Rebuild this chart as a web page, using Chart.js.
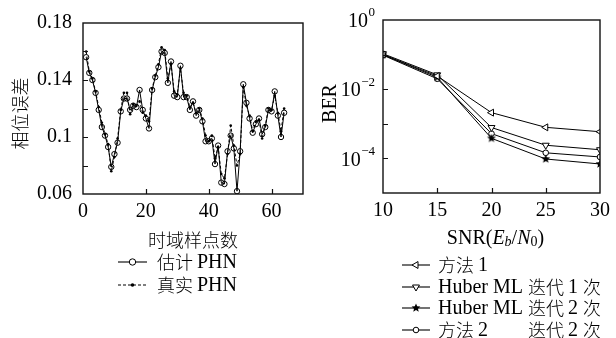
<!DOCTYPE html>
<html><head><meta charset="utf-8">
<script src="https://cdn.jsdelivr.net/npm/chart.js@4/dist/chart.umd.min.js"></script>
<style>
html,body{margin:0;padding:0;background:#fff;}
#wrap{position:relative;width:616px;height:338px;background:#fff;}
#c1{position:absolute;left:0;top:0;}
#c2{position:absolute;left:310px;top:0;}
</style></head><body>
<div id="wrap"><canvas id="c1" width="310" height="338"></canvas><canvas id="c2" width="306" height="338"></canvas></div>
<script>
// ---------- data: left chart ----------
const sampleIdx = [];
for (let i = 1; i <= 64; i++) sampleIdx.push(i);
const estPHN = [0.156,0.145,0.140,0.131,0.119,0.107,0.101,0.093,0.079,0.088,
  0.096,0.118,0.127,0.127,0.119,0.122,0.121,0.133,0.119,0.113,
  0.106,0.133,0.142,0.149,0.160,0.159,0.138,0.153,0.129,0.128,
  0.150,0.128,0.128,0.119,0.125,0.115,0.119,0.111,0.097,0.097,
  0.099,0.081,0.094,0.068,0.067,0.090,0.101,0.092,0.062,0.090,
  0.137,0.124,0.113,0.103,0.109,0.113,0.102,0.107,0.119,0.118,
  0.132,0.115,0.100,0.117];
const truePHN = [0.160,0.146,0.141,0.132,0.121,0.110,0.102,0.095,0.076,0.086,
  0.099,0.119,0.131,0.131,0.116,0.123,0.122,0.125,0.117,0.115,
  0.111,0.134,0.143,0.151,0.163,0.161,0.141,0.151,0.132,0.130,
  0.148,0.131,0.129,0.121,0.124,0.117,0.120,0.113,0.101,0.097,
  0.101,0.085,0.093,0.074,0.071,0.088,0.108,0.094,0.080,0.088,
  0.135,0.122,0.115,0.104,0.111,0.112,0.099,0.108,0.120,0.119,
  0.129,0.117,0.104,0.120];
const leftXTicks = [0, 20, 40, 60];
const leftYTicks = [0.06, 0.08, 0.10, 0.12, 0.14, 0.16, 0.18];
const leftYLabels = ['0.06', '', '0.1', '', '0.14', '', '0.18'];
const leftNames = ['估计 PHN', '真实 PHN'];

// ---------- data: right chart ----------
const snr = [10, 15, 20, 25, 30];
const berM1 = [0.100, 0.024, 2.1e-3, 7.9e-4, 5.9e-4];
const berHuber1 = [0.106, 0.026, 7.8e-4, 2.4e-4, 1.78e-4];
const berHuber2 = [0.100, 0.022, 3.8e-4, 9.6e-5, 6.9e-5];
const berM2 = [0.096, 0.020, 5.2e-4, 1.45e-4, 1.1e-4];
const rightXTicks = [10, 15, 20, 25, 30];
const rightYTicks = [1e-5, 1e-4, 1e-3, 1e-2, 1e-1, 1e0];
const rightYExp = ['', '−4', '', '−2', '', '0'];
const rightNames = ['方法 1', 'Huber ML 迭代 1 次', 'Huber ML 迭代 2 次', '方法 2'];

// ---------- style helpers ----------
const LAT = "'Liberation Serif', 'DejaVu Serif', serif";
const CJK = "'Noto Sans CJK SC', 'Noto Sans CJK JP', sans-serif";
const LSIZE = 20, CSIZE = 18;
const cjkRe = /[\u3000-\u9fff\uff00-\uffef]/;

function richSegments(str) {
  const segs = [];
  let cur = '', curC = null;
  for (const ch of str) {
    const c = cjkRe.test(ch);
    if (curC === null || c === curC || ch === ' ') { cur += ch; if (curC === null && ch !== ' ') curC = c; }
    else { segs.push([cur, curC]); cur = ch; curC = c; }
  }
  if (cur) segs.push([cur, curC]);
  return segs;
}
function fontFor(c) { return c ? `300 ${CSIZE}px ${CJK}` : `${LSIZE}px ${LAT}`; }
function richWidth(ctx, str) {
  let w = 0;
  for (const [t, c] of richSegments(str)) { ctx.font = fontFor(c); w += ctx.measureText(t).width; }
  return w;
}
function drawRich(ctx, str, x, y, align) {
  const w = richWidth(ctx, str);
  let cx = align === 'center' ? x - w / 2 : x;
  ctx.textBaseline = 'middle';
  ctx.textAlign = 'left';
  ctx.fillStyle = '#000';
  for (const [t, c] of richSegments(str)) {
    ctx.font = fontFor(c);
    ctx.fillText(t, cx, y + (c ? 0 : 0.5));
    cx += ctx.measureText(t).width;
  }
}

function makeStar(r) {
  const s = Math.ceil(r * 2 + 2);
  const cv = document.createElement('canvas');
  cv.width = s; cv.height = s;
  const g = cv.getContext('2d');
  g.fillStyle = '#000';
  g.beginPath();
  for (let i = 0; i < 10; i++) {
    const rr = i % 2 === 0 ? r : r * 0.45;
    const a = -Math.PI / 2 + i * Math.PI / 5;
    const px = s / 2 + rr * Math.cos(a), py = s / 2 + rr * Math.sin(a);
    if (i === 0) g.moveTo(px, py); else g.lineTo(px, py);
  }
  g.closePath(); g.fill();
  return cv;
}
const starImg = makeStar(4.6);

function drawMarker(ctx, kind, x, y) {
  ctx.save();
  ctx.strokeStyle = '#000'; ctx.lineWidth = 1; ctx.fillStyle = '#fff';
  if (kind === 'circle') {
    ctx.beginPath(); ctx.arc(x, y, 3.2, 0, Math.PI * 2); ctx.fill(); ctx.stroke();
  } else if (kind === 'dot') {
    ctx.fillStyle = '#000'; ctx.beginPath(); ctx.arc(x, y, 1.8, 0, Math.PI * 2); ctx.fill();
  } else if (kind === 'smallcircle') {
    ctx.beginPath(); ctx.arc(x, y, 2.8, 0, Math.PI * 2); ctx.fill(); ctx.stroke();
  } else if (kind === 'tleft' || kind === 'tdown') {
    const r = 4;
    const rot = kind === 'tleft' ? -Math.PI / 2 : Math.PI;
    ctx.beginPath();
    for (let i = 0; i < 3; i++) {
      const a = -Math.PI / 2 + rot + i * 2 * Math.PI / 3;
      const px = x + r * Math.cos(a), py = y + r * Math.sin(a);
      if (i === 0) ctx.moveTo(px, py); else ctx.lineTo(px, py);
    }
    ctx.closePath(); ctx.fill(); ctx.stroke();
  } else if (kind === 'star') {
    ctx.drawImage(starImg, x - starImg.width / 2, y - starImg.height / 2);
  }
  ctx.restore();
}

// ---------- decoration plugin ----------
function framePlugin(cfg) {
  return {
    id: 'frame',
    afterDraw(chart) {
      const ctx = chart.ctx, a = chart.chartArea;
      const xs = chart.scales.x, ys = chart.scales.y;
      ctx.save();
      ctx.strokeStyle = '#111';
      ctx.lineWidth = 1.4;
      ctx.strokeRect(a.left, a.top, a.right - a.left, a.bottom - a.top);
      ctx.lineWidth = 1.2;
      ctx.beginPath();
      for (const v of cfg.xInner) { const px = Math.round(xs.getPixelForValue(v)) + 0.5; ctx.moveTo(px, a.bottom); ctx.lineTo(px, a.bottom - 5); }
      for (const v of cfg.yInner) { const py = Math.round(ys.getPixelForValue(v)) + 0.5; ctx.moveTo(a.left, py); ctx.lineTo(a.left + 5, py); }
      ctx.stroke();
      // y superscript labels
      if (cfg.yExp) {
        cfg.yTickVals.forEach((v, i) => {
          const e = cfg.yExp[i]; if (!e) return;
          const py = ys.getPixelForValue(v);
          ctx.font = `13px ${LAT}`;
          const ew = ctx.measureText(e).width;
          const right = a.left - 8;
          ctx.fillStyle = '#000'; ctx.textAlign = 'left'; ctx.textBaseline = 'middle';
          ctx.fillText(e, right - ew, py - 7);
          ctx.font = `${LSIZE}px ${LAT}`;
          const bw = ctx.measureText('10').width;
          ctx.fillText('10', right - ew - bw - 0.5, py + 2);
        });
      }
      // y title (rotated)
      ctx.save();
      ctx.translate(cfg.yTitleX, (a.top + a.bottom) / 2 + cfg.yTitleDy);
      ctx.rotate(-Math.PI / 2);
      drawRich(ctx, cfg.yTitle, 0, 0, 'center');
      ctx.restore();
      // x title
      if (cfg.xTitleDraw) cfg.xTitleDraw(ctx, (a.left + a.right) / 2 + cfg.xTitleDx, cfg.xTitleY);
      else drawRich(ctx, cfg.xTitle, (a.left + a.right) / 2 + cfg.xTitleDx, cfg.xTitleY, 'center');
      // legend
      cfg.legend.forEach((it, i) => {
        const y = cfg.legY[i];
        ctx.save();
        ctx.strokeStyle = '#000'; ctx.lineWidth = 1.1;
        ctx.setLineDash(it.dash || []);
        ctx.beginPath(); ctx.moveTo(cfg.legX0, y); ctx.lineTo(cfg.legX1, y); ctx.stroke();
        ctx.restore();
        drawMarker(ctx, it.marker, (cfg.legX0 + cfg.legX1) / 2, y);
        if (it.parts) {
          drawRich(ctx, it.parts[0], cfg.legTX, y, 'left');
          drawRich(ctx, it.parts[1], cfg.legTX + richWidth(ctx, it.alignRef), y, 'left');
        } else drawRich(ctx, it.text, cfg.legTX, y, 'left');
      });
      ctx.restore();
    }
  };
}

Chart.defaults.color = '#000';
Chart.defaults.font.family = LAT;
Chart.defaults.font.size = LSIZE;

// ---------- left chart ----------
new Chart(document.getElementById('c1'), {
  type: 'line',
  data: {
    datasets: [
      { label: leftNames[0], data: sampleIdx.map((x, i) => ({ x, y: estPHN[i] })),
        borderColor: '#000', borderWidth: 1, pointStyle: 'circle', pointRadius: 2.7,
        pointBackgroundColor: 'rgba(255,255,255,0)', pointBorderColor: '#000', pointBorderWidth: 1, tension: 0, order: 0 },
      { label: leftNames[1], data: sampleIdx.map((x, i) => ({ x, y: truePHN[i] })),
        borderColor: '#000', borderWidth: 1, borderDash: [3, 2], pointStyle: 'circle', pointRadius: 1.3,
        pointBackgroundColor: '#000', pointBorderColor: '#000', pointBorderWidth: 0, tension: 0, order: 1 }
    ]
  },
  options: {
    responsive: false, animation: false, devicePixelRatio: 1,
    layout: { padding: { left: 0, right: 7, top: 20, bottom: 114 } },
    plugins: { legend: { display: false }, tooltip: { enabled: false } },
    scales: {
      x: { type: 'linear', min: 0, max: 70,
        afterBuildTicks: s => { s.ticks = leftXTicks.map(v => ({ value: v })); },
        afterFit: s => { s.height = 30; },
        grid: { display: false, drawTicks: false }, border: { display: false },
        ticks: { padding: 6, maxRotation: 0, autoSkip: false, font: { size: LSIZE, family: LAT } } },
      y: { type: 'linear', min: 0.06, max: 0.18,
        afterBuildTicks: s => { s.ticks = leftYTicks.map(v => ({ value: v })); },
        afterFit: s => { s.width = 83; },
        grid: { display: false, drawTicks: false }, border: { display: false },
        ticks: { padding: 11, autoSkip: false, font: { size: LSIZE, family: LAT },
          callback: (v, i) => leftYLabels[i] } }
    }
  },
  plugins: [framePlugin({
    xInner: [20, 40, 60], yInner: [0.08, 0.10, 0.12, 0.14, 0.16],
    yTitle: '相位误差', yTitleX: 20, yTitleDy: 5,
    xTitle: '时域样点数', xTitleDx: 0, xTitleY: 240,
    legX0: 118, legX1: 147, legTX: 157, legY: [262, 285],
    legend: [ { marker: 'circle', text: leftNames[0] }, { marker: 'dot', dash: [3, 2], text: leftNames[1] } ]
  })]
});

// ---------- right chart ----------
new Chart(document.getElementById('c2'), {
  type: 'line',
  data: {
    datasets: [
      { label: rightNames[0], data: snr.map((x, i) => ({ x, y: berM1[i] })),
        borderColor: '#000', borderWidth: 1, pointStyle: 'triangle', rotation: -90, pointRadius: 4,
        pointBackgroundColor: '#fff', pointBorderColor: '#000', pointBorderWidth: 1 },
      { label: rightNames[1], data: snr.map((x, i) => ({ x, y: berHuber1[i] })),
        borderColor: '#000', borderWidth: 1, pointStyle: 'triangle', rotation: 180, pointRadius: 4,
        pointBackgroundColor: '#fff', pointBorderColor: '#000', pointBorderWidth: 1 },
      { label: rightNames[2], data: snr.map((x, i) => ({ x, y: berHuber2[i] })),
        borderColor: '#000', borderWidth: 1, pointStyle: starImg, pointRadius: 4 },
      { label: rightNames[3], data: snr.map((x, i) => ({ x, y: berM2[i] })),
        borderColor: '#000', borderWidth: 1, pointStyle: 'circle', pointRadius: 2.8,
        pointBackgroundColor: '#fff', pointBorderColor: '#000', pointBorderWidth: 1 }
    ]
  },
  options: {
    responsive: false, animation: false, devicePixelRatio: 1,
    layout: { padding: { left: 0, right: 12, top: 20, bottom: 115 } },
    plugins: { legend: { display: false }, tooltip: { enabled: false } },
    scales: {
      x: { type: 'linear', min: 10, max: 30,
        afterBuildTicks: s => { s.ticks = rightXTicks.map(v => ({ value: v })); },
        afterFit: s => { s.height = 30; },
        grid: { display: false, drawTicks: false }, border: { display: false },
        ticks: { padding: 6, maxRotation: 0, autoSkip: false, font: { size: LSIZE, family: LAT } } },
      y: { type: 'logarithmic', min: 1e-5, max: 1,
        afterBuildTicks: s => { s.ticks = rightYTicks.map(v => ({ value: v })); },
        afterFit: s => { s.width = 73; },
        grid: { display: false, drawTicks: false }, border: { display: false },
        ticks: { display: true, padding: 8, autoSkip: false, callback: () => '' } }
    }
  },
  plugins: [framePlugin({
    xInner: [15, 20, 25], yInner: [1e-1, 1e-2, 1e-3, 1e-4],
    yTickVals: rightYTicks, yExp: rightYExp,
    yTitle: 'BER', yTitleX: 20, yTitleDy: -3,
    xTitleDx: 4, xTitleY: 238,
    xTitleDraw: (ctx, cx, y) => {
      const parts = [['SNR(', 'n', 0], ['E', 'i', 0], ['b', 'is', 4], ['/', 'n', 0], ['N', 'i', 0], ['0', 'ns', 4], [')', 'n', 0]];
      const f = p => p[1].startsWith('i') ? (p[1] === 'is' ? `italic 14px ${LAT}` : `italic ${LSIZE}px ${LAT}`) : (p[1] === 'ns' ? `14px ${LAT}` : `${LSIZE}px ${LAT}`);
      let w = 0;
      parts.forEach(p => { ctx.font = f(p); w += ctx.measureText(p[0]).width; });
      let x = cx - w / 2;
      ctx.fillStyle = '#000'; ctx.textAlign = 'left'; ctx.textBaseline = 'middle';
      parts.forEach(p => { ctx.font = f(p); ctx.fillText(p[0], x, y + 0.5 + p[2]); x += ctx.measureText(p[0]).width; });
    },
    legX0: 92, legX1: 120, legTX: 128, legY: [265, 287, 308, 330],
    legend: [
      { marker: 'tleft', text: rightNames[0] },
      { marker: 'tdown', text: rightNames[1] },
      { marker: 'star', text: rightNames[2] },
      { marker: 'smallcircle', parts: [rightNames[3], '迭代 2 次'], alignRef: 'Huber ML ' }
    ]
  })]
});
</script>
</body></html>
